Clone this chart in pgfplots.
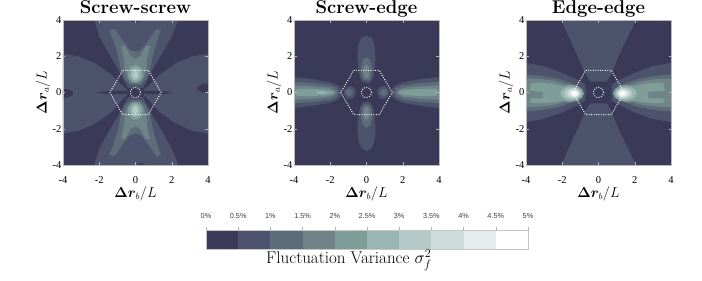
\documentclass[border=0pt]{standalone}
\usepackage{fontspec}
\usepackage{bm}
\usepackage{pgfplots}
\pgfplotsset{compat=1.18}
\newfontfamily\tfont{Liberation Serif}
\newfontfamily\sfont{Liberation Sans}
\definecolor{c0}{HTML}{3A3A58}
\definecolor{c1}{HTML}{4D536C}
\definecolor{c2}{HTML}{5D6C79}
\definecolor{c3}{HTML}{6E8489}
\definecolor{c4}{HTML}{7F9E99}
\definecolor{c5}{HTML}{99B5B4}
\definecolor{c6}{HTML}{B3C9C7}
\definecolor{c7}{HTML}{CCDDDC}
\definecolor{c8}{HTML}{E5ECEC}
\definecolor{c9}{HTML}{FFFFFF}
\pgfplotsset{
 every axis title shift=0pt,
 panel/.style={
  anchor=south west, width=145pt, height=145pt, scale only axis,
  xmin=-4,xmax=4,ymin=-4,ymax=4,
  axis background/.style={fill=c0},
  axis on top,
  xtick={-4,-2,0,2,4}, ytick={-4,-2,0,2,4},
  xticklabels={-4,-2,0,2,4}, yticklabels={-4,-2,0,2,4},
  tick align=inside, major tick length=2.5pt,
  tick style={color=gray!60, line width=0.4pt},
  axis line style={gray!55, line width=0.5pt},
  ticklabel style={font=\tfont\fontsize{10.5}{12}\selectfont, inner sep=0pt},
  xticklabel style={anchor=north, yshift=-11.5pt},
  yticklabel style={anchor=east, xshift=-1.5pt},
  title style={at={(axis description cs:0.5,1.0414)}, anchor=base, font=\bfseries\fontsize{18.5}{22}\selectfont, inner sep=0pt},
  xlabel={$\bm{\Delta r}_b/L$}, ylabel={$\bm{\Delta r}_a/L$},
  xlabel style={at={(axis description cs:0.5,-0.224)}, anchor=base, font=\fontsize{13.5}{16}\selectfont, inner sep=0pt},
  ylabel style={at={(axis description cs:-0.1124,0.5)}, anchor=base, font=\fontsize{13.5}{16}\selectfont, inner sep=0pt},
 },
 hex/.style={white, line width=1pt, dash pattern=on 0.9pt off 1.5pt},
}
\newcommand\hexcirc{%
\addplot[hex] coordinates {(1.414,0) (0.707,1.225) (-0.707,1.225) (-1.414,0) (-0.707,-1.225) (0.707,-1.225) (1.414,0)};
\addplot[hex] coordinates {(0.28,0) (0.259,0.107) (0.198,0.198) (0.107,0.259) (0,0.28) (-0.107,0.259) (-0.198,0.198) (-0.259,0.107) (-0.28,0) (-0.259,-0.107) (-0.198,-0.198) (-0.107,-0.259) (0,-0.28) (0.107,-0.259) (0.198,-0.198) (0.259,-0.107) (0.28,0)};
}
\begin{document}
\begin{tikzpicture}
\useasboundingbox (0,0) rectangle (702pt,281pt);
% ================= Screw-screw =================
\begin{axis}[panel, at={(63pt,116pt)}, title={Screw-screw}]
\addplot[fill=c1,draw=none] coordinates {(-2.3,4.1) (2.4,4.1) (2.0,3.1) (1.5,2.2) (1.05,1.45) (0.7,0.8) (0.4,0.25) (-0.4,0.25) (-0.7,0.8) (-1.05,1.45) (-1.5,2.2) (-2.0,3.1)} -- cycle;
\addplot[fill=c1,draw=none] coordinates {(-2.3,-4.1) (2.4,-4.1) (2.0,-3.1) (1.5,-2.2) (1.05,-1.45) (0.7,-0.8) (0.4,-0.25) (-0.4,-0.25) (-0.7,-0.8) (-1.05,-1.45) (-1.5,-2.2) (-2.0,-3.1)} -- cycle;
\addplot[fill=c1,draw=none] coordinates {(-4.1,2.15) (-3.1,1.98) (-2.2,1.6) (-1.3,0.95) (-0.8,0.45) (-0.35,0.05) (-0.35,-0.05) (-0.8,-0.48) (-1.3,-1.05) (-2.2,-1.7) (-3.1,-2.1) (-4.1,-2.3)} -- cycle;
\addplot[fill=c1,draw=none] coordinates {(4.1,2.15) (3.1,1.98) (2.2,1.6) (1.3,0.95) (0.8,0.45) (0.35,0.05) (0.35,-0.05) (0.8,-0.48) (1.3,-1.05) (2.2,-1.7) (3.1,-2.1) (4.1,-2.3)} -- cycle;
\addplot[fill=c0,draw=none] coordinates {(-2.1,0) (-1.6,0.08) (-0.9,0.1) (-0.45,0.07) (-0.4,0) (-0.45,-0.07) (-0.9,-0.1) (-1.6,-0.08)} -- cycle;
\addplot[fill=c0,draw=none] coordinates {(2.05,0) (1.6,0.08) (0.9,0.1) (0.5,0.07) (0.45,0) (0.5,-0.07) (0.9,-0.1) (1.6,-0.08)} -- cycle;
\addplot[fill=c0,draw=none] coordinates {(0.5,0) (0.433,0.15) (0.25,0.26) (0,0.3) (-0.25,0.26) (-0.433,0.15) (-0.5,0) (-0.433,-0.15) (-0.25,-0.26) (0,-0.3) (0.25,-0.26) (0.433,-0.15)} -- cycle;
\addplot[fill=c0,draw=none] coordinates {(-4.1,0.2) (-3.7,0.17) (-3.45,0.05) (-3.45,-0.12) (-3.7,-0.27) (-4.1,-0.32)} -- cycle;
\addplot[fill=c0,draw=none] coordinates {(4.1,0.52) (3.7,0.47) (3.42,0.3) (3.42,0.15) (3.7,-0.02) (4.1,-0.05)} -- cycle;
\addplot[fill=c0,draw=none] coordinates {(-0.45,4.1) (-0.3,3.92) (0,3.86) (0.3,3.92) (0.45,4.1)} -- cycle;
\addplot[fill=c0,draw=none] coordinates {(0.05,-4.1) (0.15,-3.93) (0.3,-3.88) (0.45,-3.93) (0.55,-4.1)} -- cycle;
\addplot[fill=c2,draw=none] coordinates {(-1.45,3.45) (-1.15,3.5) (-0.7,2.85) (-0.3,2.35) (0,2.25) (0.3,2.35) (0.7,2.85) (1.15,3.5) (1.4,3.45) (1.15,2.7) (0.95,2.0) (0.82,1.3) (0.6,0.75) (0.3,0.42) (-0.3,0.42) (-0.6,0.75) (-0.82,1.3) (-0.95,2.0) (-1.15,2.7)} -- cycle;
\addplot[fill=c2,draw=none] coordinates {(-1.45,-3.45) (-1.15,-3.5) (-0.7,-2.85) (-0.3,-2.35) (0,-2.25) (0.3,-2.35) (0.7,-2.85) (1.15,-3.5) (1.4,-3.45) (1.15,-2.7) (0.95,-2.0) (0.82,-1.3) (0.6,-0.75) (0.3,-0.42) (-0.3,-0.42) (-0.6,-0.75) (-0.82,-1.3) (-0.95,-2.0) (-1.15,-2.7)} -- cycle;
\addplot[fill=c3,draw=none] coordinates {(-0.8,2.55) (-0.6,2.6) (-0.25,2.0) (0,1.85) (0.25,2.0) (0.6,2.6) (0.8,2.55) (0.65,1.9) (0.6,1.3) (0.45,0.8) (0.25,0.55) (-0.25,0.55) (-0.45,0.8) (-0.6,1.3) (-0.65,1.9)} -- cycle;
\addplot[fill=c3,draw=none] coordinates {(-0.8,-2.55) (-0.6,-2.6) (-0.25,-2.0) (0,-1.85) (0.25,-2.0) (0.6,-2.6) (0.8,-2.55) (0.65,-1.9) (0.6,-1.3) (0.45,-0.8) (0.25,-0.55) (-0.25,-0.55) (-0.45,-0.8) (-0.6,-1.3) (-0.65,-1.9)} -- cycle;
\addplot[fill=c4,draw=none] coordinates {(0.42,1.02) (0.364,1.27) (0.21,1.453) (0,1.52) (-0.21,1.453) (-0.364,1.27) (-0.42,1.02) (-0.364,0.77) (-0.21,0.587) (0,0.52) (0.21,0.587) (0.364,0.77)} -- cycle;
\addplot[fill=c4,draw=none] coordinates {(0.42,-1.02) (0.364,-1.27) (0.21,-1.453) (0,-1.52) (-0.21,-1.453) (-0.364,-1.27) (-0.42,-1.02) (-0.364,-0.77) (-0.21,-0.587) (0,-0.52) (0.21,-0.587) (0.364,-0.77)} -- cycle;
\addplot[fill=c5,draw=none] coordinates {(0.28,1.0) (0.243,1.175) (0.14,1.303) (0,1.35) (-0.14,1.303) (-0.243,1.175) (-0.28,1.0) (-0.243,0.825) (-0.14,0.697) (0,0.65) (0.14,0.697) (0.243,0.825)} -- cycle;
\addplot[fill=c5,draw=none] coordinates {(0.28,-1.0) (0.243,-1.175) (0.14,-1.303) (0,-1.35) (-0.14,-1.303) (-0.243,-1.175) (-0.28,-1.0) (-0.243,-0.825) (-0.14,-0.697) (0,-0.65) (0.14,-0.697) (0.243,-0.825)} -- cycle;
\addplot[fill=c6,draw=none] coordinates {(0.15,0.98) (0.13,1.08) (0.075,1.153) (0,1.18) (-0.075,1.153) (-0.13,1.08) (-0.15,0.98) (-0.13,0.88) (-0.075,0.807) (0,0.78) (0.075,0.807) (0.13,0.88)} -- cycle;
\addplot[fill=c6,draw=none] coordinates {(0.15,-0.98) (0.13,-1.08) (0.075,-1.153) (0,-1.18) (-0.075,-1.153) (-0.13,-1.08) (-0.15,-0.98) (-0.13,-0.88) (-0.075,-0.807) (0,-0.78) (0.075,-0.807) (0.13,-0.88)} -- cycle;
\hexcirc
\end{axis}
% ================= Screw-edge =================
\begin{axis}[panel, at={(294pt,116pt)}, title={Screw-edge}]
\addplot[fill=c1,draw=none] coordinates {(-4.1,0.87) (-3,0.74) (-2,0.56) (-1.6,0.4) (-1.4,0.2) (-1.35,0) (-1.4,-0.2) (-1.6,-0.4) (-2,-0.56) (-3,-0.74) (-4.1,-0.87)} -- cycle;
\addplot[fill=c1,draw=none] coordinates {(4.1,0.87) (3,0.74) (2,0.56) (1.6,0.4) (1.4,0.2) (1.35,0) (1.4,-0.2) (1.6,-0.4) (2,-0.56) (3,-0.74) (4.1,-0.87)} -- cycle;
\addplot[fill=c2,draw=none] coordinates {(-4.1,0.6) (-3,0.52) (-2,0.4) (-1.65,0.25) (-1.52,0) (-1.65,-0.25) (-2,-0.4) (-3,-0.52) (-4.1,-0.6)} -- cycle;
\addplot[fill=c2,draw=none] coordinates {(4.1,0.6) (3,0.52) (2,0.4) (1.65,0.25) (1.52,0) (1.65,-0.25) (2,-0.4) (3,-0.52) (4.1,-0.6)} -- cycle;
\addplot[fill=c3,draw=none] coordinates {(-4.1,0.4) (-3,0.35) (-2.1,0.26) (-1.75,0.12) (-1.68,0) (-1.75,-0.12) (-2.1,-0.26) (-3,-0.35) (-4.1,-0.4)} -- cycle;
\addplot[fill=c3,draw=none] coordinates {(4.1,0.4) (3,0.35) (2.1,0.26) (1.75,0.12) (1.68,0) (1.75,-0.12) (2.1,-0.26) (3,-0.35) (4.1,-0.4)} -- cycle;
\addplot[fill=c4,draw=none] coordinates {(-3.85,0.2) (-3,0.2) (-2.2,0.15) (-1.85,0.07) (-1.78,0) (-1.85,-0.07) (-2.2,-0.15) (-3,-0.2) (-3.85,-0.2) (-3.95,0)} -- cycle;
\addplot[fill=c4,draw=none] coordinates {(3.85,0.2) (3,0.2) (2.2,0.15) (1.85,0.07) (1.78,0) (1.85,-0.07) (2.2,-0.15) (3,-0.2) (3.85,-0.2) (3.95,0)} -- cycle;
\addplot[fill=c5,draw=none] coordinates {(-2.2,0) (-2.3,0.05) (-2.5,0.07) (-2.7,0.05) (-2.8,0) (-2.7,-0.05) (-2.5,-0.07) (-2.3,-0.05)} -- cycle;
\addplot[fill=c1,draw=none] coordinates {(-0.59,0) (-0.634,0.18) (-0.755,0.312) (-0.92,0.36) (-1.085,0.312) (-1.206,0.18) (-1.25,0) (-1.206,-0.18) (-1.085,-0.312) (-0.92,-0.36) (-0.755,-0.312) (-0.634,-0.18)} -- cycle;
\addplot[fill=c1,draw=none] coordinates {(0.59,0) (0.634,0.18) (0.755,0.312) (0.92,0.36) (1.085,0.312) (1.206,0.18) (1.25,0) (1.206,-0.18) (1.085,-0.312) (0.92,-0.36) (0.755,-0.312) (0.634,-0.18)} -- cycle;
\addplot[fill=c2,draw=none] coordinates {(-0.75,0) (-0.777,0.1) (-0.85,0.173) (-0.95,0.2) (-1.05,0.173) (-1.123,0.1) (-1.15,0) (-1.123,-0.1) (-1.05,-0.173) (-0.95,-0.2) (-0.85,-0.173) (-0.777,-0.1)} -- cycle;
\addplot[fill=c2,draw=none] coordinates {(0.75,0) (0.777,0.1) (0.85,0.173) (0.95,0.2) (1.05,0.173) (1.123,0.1) (1.15,0) (1.123,-0.1) (1.05,-0.173) (0.95,-0.2) (0.85,-0.173) (0.777,-0.1)} -- cycle;
\addplot[fill=c1,draw=none] coordinates {(0,3.15) (0.3,3.0) (0.45,2.6) (0.5,2.0) (0.45,1.3) (0.35,0.8) (0.2,0.55) (0,0.52) (-0.2,0.55) (-0.35,0.8) (-0.45,1.3) (-0.5,2.0) (-0.45,2.6) (-0.3,3.0)} -- cycle;
\addplot[fill=c1,draw=none] coordinates {(0,-3.25) (0.3,-3.05) (0.45,-2.6) (0.5,-2.0) (0.45,-1.3) (0.35,-0.8) (0.2,-0.55) (0,-0.52) (-0.2,-0.55) (-0.35,-0.8) (-0.45,-1.3) (-0.5,-2.0) (-0.45,-2.6) (-0.3,-3.05)} -- cycle;
\addplot[fill=c2,draw=none] coordinates {(0,1.95) (0.2,1.8) (0.3,1.4) (0.28,0.95) (0.18,0.7) (0,0.65) (-0.18,0.7) (-0.28,0.95) (-0.3,1.4) (-0.2,1.8)} -- cycle;
\addplot[fill=c2,draw=none] coordinates {(0,-1.95) (0.2,-1.8) (0.3,-1.4) (0.28,-0.95) (0.18,-0.7) (0,-0.65) (-0.18,-0.7) (-0.28,-0.95) (-0.3,-1.4) (-0.2,-1.8)} -- cycle;
\addplot[fill=c3,draw=none] coordinates {(0,1.55) (0.13,1.4) (0.16,1.1) (0.12,0.85) (0,0.78) (-0.12,0.85) (-0.16,1.1) (-0.13,1.4)} -- cycle;
\addplot[fill=c3,draw=none] coordinates {(0,-1.55) (0.13,-1.4) (0.16,-1.1) (0.12,-0.85) (0,-0.78) (-0.12,-0.85) (-0.16,-1.1) (-0.13,-1.4)} -- cycle;
\hexcirc
\end{axis}
% ================= Edge-edge =================
\begin{axis}[panel, at={(526pt,116pt)}, title={Edge-edge}]
\addplot[fill=c1,draw=none] coordinates {(-2.1,4.1) (2.12,4.1) (1.1,2.0) (0.7,1.0) (0.45,0.6) (-0.45,0.6) (-0.7,1.0) (-1.15,2.0)} -- cycle;
\addplot[fill=c1,draw=none] coordinates {(-2.1,-4.1) (2.12,-4.1) (1.1,-2.0) (0.7,-1.0) (0.45,-0.6) (-0.45,-0.6) (-0.7,-1.0) (-1.15,-2.0)} -- cycle;
\addplot[fill=c1,draw=none] coordinates {(-4.1,1.65) (-3,1.45) (-2,1.08) (-1.4,0.8) (-1.0,0.62) (-0.75,0.45) (-0.7,0) (-0.75,-0.45) (-1.0,-0.62) (-1.4,-0.8) (-2,-1.1) (-3,-1.45) (-4.1,-1.65)} -- cycle;
\addplot[fill=c1,draw=none] coordinates {(4.1,1.65) (3,1.45) (2,1.08) (1.4,0.8) (1.0,0.62) (0.75,0.45) (0.7,0) (0.75,-0.45) (1.0,-0.62) (1.4,-0.8) (2,-1.1) (3,-1.45) (4.1,-1.65)} -- cycle;
\addplot[fill=c2,draw=none] coordinates {(-4.1,1.0) (-3,0.9) (-2.2,0.75) (-1.6,0.55) (-1.1,0.35) (-0.85,0) (-1.1,-0.35) (-1.6,-0.6) (-2.2,-0.8) (-3,-0.95) (-4.1,-1.05)} -- cycle;
\addplot[fill=c2,draw=none] coordinates {(4.1,1.0) (3,0.9) (2.2,0.75) (1.6,0.55) (1.1,0.35) (0.85,0) (1.1,-0.35) (1.6,-0.6) (2.2,-0.8) (3,-0.95) (4.1,-1.05)} -- cycle;
\addplot[fill=c3,draw=none] coordinates {(-4.1,0.75) (-3.3,0.75) (-2.5,0.65) (-1.8,0.45) (-1.1,0.25) (-0.95,0) (-1.1,-0.3) (-1.8,-0.5) (-2.5,-0.7) (-3.3,-0.8) (-4.1,-0.8)} -- cycle;
\addplot[fill=c3,draw=none] coordinates {(4.1,0.75) (3.3,0.75) (2.5,0.65) (1.8,0.45) (1.1,0.25) (0.95,0) (1.1,-0.3) (1.8,-0.5) (2.5,-0.7) (3.3,-0.8) (4.1,-0.8)} -- cycle;
\addplot[fill=c4,draw=none] coordinates {(-3.75,0.5) (-3.3,0.55) (-2.6,0.48) (-1.9,0.35) (-1.6,0.2) (-1.6,-0.3) (-1.9,-0.45) (-2.6,-0.55) (-3.3,-0.6) (-3.75,-0.55) (-3.8,-0.33) (-3.1,-0.33) (-3.05,0.05) (-3.8,0.08)} -- cycle;
\addplot[fill=c4,draw=none] coordinates {(3.6,0.5) (3.3,0.55) (2.6,0.48) (1.9,0.35) (1.6,0.2) (1.6,-0.3) (1.9,-0.45) (2.6,-0.55) (3.3,-0.6) (3.6,-0.55) (3.65,-0.33) (2.75,-0.33) (2.72,0.05) (3.65,0.08)} -- cycle;
\addplot[fill=c4,draw=none] coordinates {(-0.8,-0.05) (-0.9,0.19) (-1.175,0.366) (-1.55,0.43) (-1.925,0.366) (-2.2,0.19) (-2.3,-0.05) (-2.2,-0.29) (-1.925,-0.466) (-1.55,-0.53) (-1.175,-0.466) (-0.9,-0.29)} -- cycle;
\addplot[fill=c5,draw=none] coordinates {(-0.9,-0.05) (-0.98,0.14) (-1.2,0.279) (-1.5,0.33) (-1.8,0.279) (-2.02,0.14) (-2.1,-0.05) (-2.02,-0.24) (-1.8,-0.379) (-1.5,-0.43) (-1.2,-0.379) (-0.98,-0.24)} -- cycle;
\addplot[fill=c6,draw=none] coordinates {(-0.97,-0.05) (-1.032,0.1) (-1.2,0.21) (-1.43,0.25) (-1.66,0.21) (-1.828,0.1) (-1.89,-0.05) (-1.828,-0.2) (-1.66,-0.31) (-1.43,-0.35) (-1.2,-0.31) (-1.032,-0.2)} -- cycle;
\addplot[fill=c7,draw=none] coordinates {(-1.04,-0.05) (-1.086,0.065) (-1.21,0.149) (-1.38,0.18) (-1.55,0.149) (-1.674,0.065) (-1.72,-0.05) (-1.674,-0.165) (-1.55,-0.249) (-1.38,-0.28) (-1.21,-0.249) (-1.086,-0.165)} -- cycle;
\addplot[fill=c8,draw=none] coordinates {(-1.1,-0.05) (-1.132,0.035) (-1.22,0.097) (-1.34,0.12) (-1.46,0.097) (-1.548,0.035) (-1.58,-0.05) (-1.548,-0.135) (-1.46,-0.197) (-1.34,-0.22) (-1.22,-0.197) (-1.132,-0.135)} -- cycle;
\addplot[fill=c9,draw=none] coordinates {(-1.16,-0.05) (-1.18,0.005) (-1.235,0.045) (-1.31,0.06) (-1.385,0.045) (-1.44,0.005) (-1.46,-0.05) (-1.44,-0.105) (-1.385,-0.145) (-1.31,-0.16) (-1.235,-0.145) (-1.18,-0.105)} -- cycle;
\addplot[fill=c4,draw=none] coordinates {(0.8,-0.05) (0.9,0.19) (1.175,0.366) (1.55,0.43) (1.925,0.366) (2.2,0.19) (2.3,-0.05) (2.2,-0.29) (1.925,-0.466) (1.55,-0.53) (1.175,-0.466) (0.9,-0.29)} -- cycle;
\addplot[fill=c5,draw=none] coordinates {(0.9,-0.05) (0.98,0.14) (1.2,0.279) (1.5,0.33) (1.8,0.279) (2.02,0.14) (2.1,-0.05) (2.02,-0.24) (1.8,-0.379) (1.5,-0.43) (1.2,-0.379) (0.98,-0.24)} -- cycle;
\addplot[fill=c6,draw=none] coordinates {(0.97,-0.05) (1.032,0.1) (1.2,0.21) (1.43,0.25) (1.66,0.21) (1.828,0.1) (1.89,-0.05) (1.828,-0.2) (1.66,-0.31) (1.43,-0.35) (1.2,-0.31) (1.032,-0.2)} -- cycle;
\addplot[fill=c7,draw=none] coordinates {(1.04,-0.05) (1.086,0.065) (1.21,0.149) (1.38,0.18) (1.55,0.149) (1.674,0.065) (1.72,-0.05) (1.674,-0.165) (1.55,-0.249) (1.38,-0.28) (1.21,-0.249) (1.086,-0.165)} -- cycle;
\addplot[fill=c8,draw=none] coordinates {(1.1,-0.05) (1.132,0.035) (1.22,0.097) (1.34,0.12) (1.46,0.097) (1.548,0.035) (1.58,-0.05) (1.548,-0.135) (1.46,-0.197) (1.34,-0.22) (1.22,-0.197) (1.132,-0.135)} -- cycle;
\addplot[fill=c9,draw=none] coordinates {(1.16,-0.05) (1.18,0.005) (1.235,0.045) (1.31,0.06) (1.385,0.045) (1.44,0.005) (1.46,-0.05) (1.44,-0.105) (1.385,-0.145) (1.31,-0.16) (1.235,-0.145) (1.18,-0.105)} -- cycle;
\hexcirc
\end{axis}
% ================= colour bar =================
\begin{axis}[anchor=south west, at={(206pt,32pt)}, width=322pt, height=19pt, scale only axis,
  xmin=0, xmax=5, ymin=0, ymax=1, axis on top,
  xtick={0,0.5,1,1.5,2,2.5,3,3.5,4,4.5,5},
  xticklabels={0\%,0.5\%,1\%,1.5\%,2\%,2.5\%,3\%,3.5\%,4\%,4.5\%,5\%},
  xtick pos=right, xticklabel pos=right, ytick=\empty,
  tick align=outside, major tick length=3pt,
  tick style={color=gray!60, line width=0.4pt},
  axis line style={gray!45, line width=0.5pt},
  xticklabel style={font=\sfont\fontsize{7.3}{9}\selectfont, text=black!75, inner sep=0pt, anchor=south, yshift=8pt}]
\addplot[fill=c0,draw=none] coordinates {(0,0) (0.5,0) (0.5,1) (0,1)} -- cycle;
\addplot[fill=c1,draw=none] coordinates {(0.5,0) (1,0) (1,1) (0.5,1)} -- cycle;
\addplot[fill=c2,draw=none] coordinates {(1,0) (1.5,0) (1.5,1) (1,1)} -- cycle;
\addplot[fill=c3,draw=none] coordinates {(1.5,0) (2,0) (2,1) (1.5,1)} -- cycle;
\addplot[fill=c4,draw=none] coordinates {(2,0) (2.5,0) (2.5,1) (2,1)} -- cycle;
\addplot[fill=c5,draw=none] coordinates {(2.5,0) (3,0) (3,1) (2.5,1)} -- cycle;
\addplot[fill=c6,draw=none] coordinates {(3,0) (3.5,0) (3.5,1) (3,1)} -- cycle;
\addplot[fill=c7,draw=none] coordinates {(3.5,0) (4,0) (4,1) (3.5,1)} -- cycle;
\addplot[fill=c8,draw=none] coordinates {(4,0) (4.5,0) (4.5,1) (4,1)} -- cycle;
\addplot[fill=c9,draw=none] coordinates {(4.5,0) (5,0) (5,1) (4.5,1)} -- cycle;
\end{axis}
\node[anchor=base west, font=\fontsize{17}{20}\selectfont, inner sep=0pt] at (266pt,17pt) {Fluctuation Variance $\sigma_f^2$};
\end{tikzpicture}
\end{document}
